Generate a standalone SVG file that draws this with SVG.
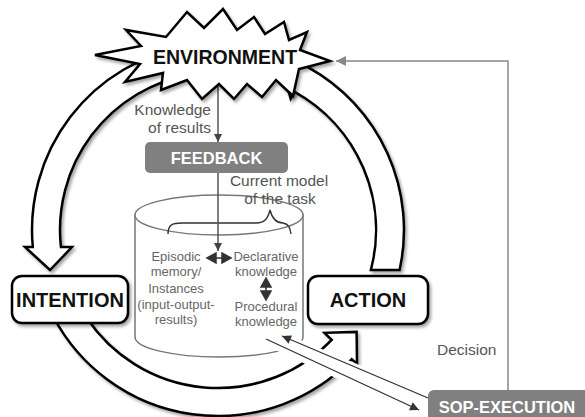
<svg xmlns="http://www.w3.org/2000/svg" width="585" height="417" viewBox="0 0 585 417">
<defs>
<filter id="sh" x="-10%" y="-10%" width="130%" height="130%"><feDropShadow dx="2" dy="2.5" stdDeviation="1.8" flood-color="#000" flood-opacity="0.35"/></filter>
<marker id="ah" viewBox="0 0 10 10" refX="10" refY="5" markerWidth="9" markerHeight="8" markerUnits="userSpaceOnUse" orient="auto"><path d="M0,0 L10,5 L0,10 Z" fill="#444"/></marker>
<marker id="ahd" viewBox="0 0 10 10" refX="10" refY="5" markerWidth="10" markerHeight="9" markerUnits="userSpaceOnUse" orient="auto"><path d="M0,0 L10,5 L0,10 Z" fill="#333"/></marker>
<marker id="ahg" viewBox="0 0 10 10" refX="10" refY="5" markerWidth="10" markerHeight="10" markerUnits="userSpaceOnUse" orient="auto"><path d="M0,0 L10,5 L0,10 Z" fill="#888"/></marker>
</defs>
<style>
.band{fill:#fff;stroke:#000;stroke-width:2.5;stroke-linejoin:miter;filter:url(#sh)}
.box{fill:#fff;stroke:#000;stroke-width:2.5;filter:url(#sh)}
.big{font-family:"Liberation Sans",Arial,sans-serif;font-weight:bold;fill:#111;text-anchor:middle}
.gbox{fill:#808080}
.wt{font-family:"Liberation Sans",Arial,sans-serif;font-weight:bold;fill:#fff;text-anchor:middle;font-size:16.5px}
.lbl{font-family:"Liberation Sans",Arial,sans-serif;font-size:15.5px;fill:#555}
.in{font-family:"Liberation Sans",Arial,sans-serif;font-size:13px;fill:#666;text-anchor:middle}
.cyl{fill:#fff;stroke:#777;stroke-width:1.5}
.ln{stroke:#555;stroke-width:1.5;fill:none}
.dl{stroke:#333;stroke-width:1.3;fill:none}
</style>

<g id="arrow-env-intention">
<path class="band" d="M185.7,46.8 A186,186 0 0 0 32.8,247 L25,247 L50,270 L72,247 L60.9,247 A158,158 0 0 1 190.6,74.4 Z"/>
</g>
<g id="arrow-action-env">
<path class="band" d="M370.9,270 L399.6,270 A186,186 0 0 0 308.2,67.3 L313,58.6 L283,71 L290.7,98.8 L294.6,91.8 A158,158 0 0 1 370.9,270 Z"/>
</g>
<g id="arrow-intention-action">
<path class="band" d="M54.1,318 A186,186 0 0 0 351.8,359.2 L357,364 L356.6,331.9 L324.5,332.8 L331.7,339.8 A158,158 0 0 1 86.8,318 Z"/>
</g>

<g id="memory">
<path class="cyl" d="M135,215 V337 A84,20 0 0 0 303,337 V215 Z"/>
<ellipse class="cyl" cx="219" cy="215" rx="84" ry="20"/>
<path d="M168,234 C168,225 172,223 182,223 L256,223 C265,223 268,218 270,210 C272,218 276,223 283,223 C289,224 290,228 291,234" fill="none" stroke="#333" stroke-width="1.4"/>
<text class="in" x="176" y="261">Episodic</text>
<text class="in" x="176" y="276">memory/</text>
<text class="in" x="176" y="293">Instances</text>
<text class="in" x="176" y="309">(input-output-</text>
<text class="in" x="176" y="324">results)</text>
<text class="in" x="266" y="261">Declarative</text>
<text class="in" x="266" y="276">knowledge</text>
<text class="in" x="266" y="311">Procedural</text>
<text class="in" x="266" y="326">knowledge</text>
<path d="M207,258 L216,253 L216,263 Z M231,258 L222,253 L222,263 Z M215,258 H223" fill="#333" stroke="#333" stroke-width="1.5"/>
<path d="M266,278 L261,287 L271,287 Z M266,300 L261,291 L271,291 Z M266,286 V292" fill="#333" stroke="#333" stroke-width="1.5"/>
</g>

<g id="intention">
<rect class="box" x="12" y="276" width="116" height="47" rx="10"/>
<text class="big" x="70" y="307" font-size="20">INTENTION</text>
</g>
<g id="action">
<rect class="box" x="308" y="276" width="120" height="48" rx="10"/>
<text class="big" x="368" y="307" font-size="20">ACTION</text>
</g>

<g id="connectors">
<path class="ln" d="M218,80 V142" marker-end="url(#ah)"/>
<path class="ln" d="M218,173 V251" marker-end="url(#ah)"/>
<path d="M508,390 V61 H336" fill="none" stroke="#888" stroke-width="1.5" marker-end="url(#ahg)"/>
<polygon points="283.4,332.8 429.4,394.8 416.5,415.4 263.5,344.4" fill="#fff"/>
<path class="dl" d="M428,398 L282,336" marker-end="url(#ahd)"/>
<path class="dl" d="M266,339 L419,410" marker-end="url(#ahd)"/>
</g>

<g id="environment">
<polygon class="box" points="95,55 141,46 126,30 166,37 187,12 204,28 223,9 237,30 254,17 265,34 284,22 289,40 307,32 300,50 330,61 299,69 293,96 276,80 262,97 247,84 234,99 219,84 202,99 187,80 161,90 163,73 125,82 140,64"/>
<text class="big" x="225" y="64" font-size="19.5">ENVIRONMENT</text>
</g>

<g id="feedback">
<rect class="gbox" x="145" y="142" width="143" height="31" rx="5"/>
<text class="wt" x="216.5" y="164">FEEDBACK</text>
</g>

<g id="sop-execution">
<rect class="gbox" x="428" y="390" width="170" height="40" rx="6"/>
<text class="wt" x="507" y="413">SOP-EXECUTION</text>
</g>

<g id="labels">
<text class="lbl" x="211" y="115" text-anchor="end">Knowledge</text>
<text class="lbl" x="211" y="133" text-anchor="end">of results</text>
<text class="lbl" x="279" y="186" text-anchor="middle">Current model</text>
<text class="lbl" x="280" y="204" text-anchor="middle">of the task</text>
<text class="lbl" x="437" y="355">Decision</text>
</g>
</svg>
